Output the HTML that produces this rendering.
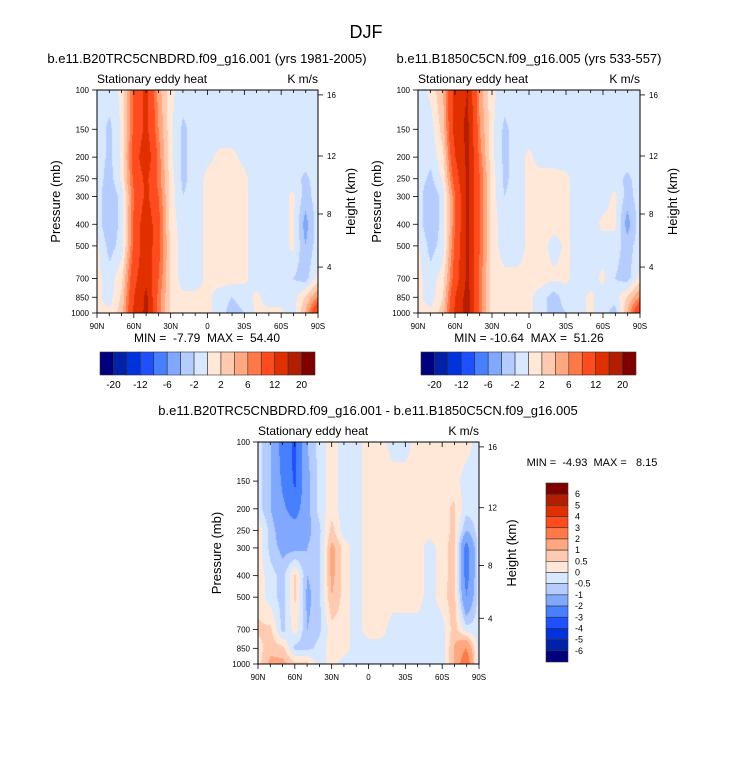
<!DOCTYPE html>
<html><head><meta charset="utf-8"><style>
body{margin:0;background:#fff;width:733px;height:758px;overflow:hidden;font-family:"Liberation Sans",sans-serif}
svg{position:absolute;left:0;top:0}
svg text{white-space:pre}
canvas{position:absolute}
</style></head><body>
<canvas id="c1" style="left:97px;top:90px" width="221" height="223"></canvas>
<canvas id="c2" style="left:418px;top:90px" width="222" height="223"></canvas>
<canvas id="c3" style="left:258px;top:442px" width="221" height="222"></canvas>
<svg id="s" width="733" height="758"></svg>
<script>
const lats=["90N","80N","70N","60N","50N","40N","30N","20N","10N","0","10S","20S","30S","40S","50S","60S","70S","80S","90S"];
const plevs=[100,150,200,250,300,400,500,700,850,1000];
const xTickLabels=["90N","60N","30N","0","30S","60S","90S"];
const pTickLabels=[100,150,200,250,300,400,500,700,850,1000];
const hTickLabels=[16,12,8,4];
const hTickFrac=[0.022,0.296,0.556,0.794];
const colors=["#00007f","#0022a8","#0033dd","#1e50ff","#4680ff","#80a8ff","#b4ccff","#d8e8ff","#ffe8d8","#ffcab0","#ffa880","#ff7848","#ff4c1e","#e03000","#b41e00","#800000"];
const levels1=[-20,-16,-12,-8,-6,-4,-2,0,2,4,6,8,12,16,20];
const levels3=[-6,-5,-4,-3,-2,-1,-0.5,0,0.5,1,2,3,4,5,6];
const cbLabels1=["-20","-12","-6","-2","2","6","12","20"];
const cbLabels3=["6","5","4","3","2","1","0.5","0","-0.5","-1","-2","-3","-4","-5","-6"];
const data1=[
[-1,-1,0.5,9,13,5,0.5,-1,-1,-1,-1,-1,-1,-1,-1,-1,-1,-1,-1],
[-1,-2.5,0.5,9,13,6,0.5,-2.5,-1,-1,-1,-1,-1,-1,-1,-1,-1,-1,-1],
[-1,-2.5,0.5,10,15,7,0.5,-2.5,-1,-0.5,0.5,0.5,-0.5,-1,-1,-1,-1,-1,-1],
[-1,-3,0.5,9,13,7,1,-2.5,-1,0.5,1,1,0.5,-1,-1,-1,-1,-2.5,-1],
[-1,-4,-1,8,13,8,1,-2,-1,0.5,1,1,0.5,-1,-1,-1,0.5,-3,-1],
[-1,-4,-1,9,15,9,1,-1,-1,0.5,1,1,0.5,-1,-1,-1,0.5,-5,-1],
[0.5,-3,-1,9,15,9,1.5,-1,-1,0.5,1,1,0.5,-1,-1,-1,0.5,-4,-1],
[0.5,-1,1.5,11,15,8,1.5,-1,-1,0.5,1,1,0.5,-1,-1,-1,-2,-3,0.5],
[0.5,-1,2.5,12,17,7,1.5,0.5,0.5,0.5,-1,-2,-1,0.5,-1,-1,-1,2,6],
[0.5,0.5,3,13,17,7,1.5,0.5,0.5,0.5,-1,-3,-2,0.5,0.5,0.5,-1,4,12]];
const data2=[
[-1,0.5,4,14,16,5,0.5,-1,-1,-1,-1,-1,-1,-1,-1,-1,-1,-1,-1],
[-1,-1,3,14,17,6,0.5,-2.5,-1,-1,-1,-1,-1,-1,-1,-1,-1,-1,-1],
[-1,-1.5,1.5,12,17,7,0.5,-2.5,-1,0.5,-1,-1,-1,-1,-1,-1,-1,-1,-1],
[-1,-2.5,0.5,10,17,8,1,-2.5,-1,0.5,1,1,0.5,-1,-1,-1,-1,-2.5,-1],
[-1,-4,-1,8,17,8,1,-2,-1,0.5,1,1,0.5,-1,-1,-1,0.5,-3,-1],
[-1,-4,-1,8,17,8,1,-1,-1,0.5,1,1,0.5,-1,-1,0.5,0.5,-5,-1],
[0.5,-3,-1,9,17,8,1,-1,-1,0.5,1,-1,0.5,-1,-1,-1,-1,-3,-1],
[0.5,-1,1,10,17,7,1,0.5,0.5,0.5,1,0.5,0.5,-1,-1,0.5,-2,-3,0.5],
[0.5,-1,2,12,18,7,1,0.5,0.5,0.5,-1,-3,-1,-1,0.5,-1,-1,2,6],
[0.5,0.5,3,13,18,7,1,0.5,0.5,0.5,-1,-3,-2,-1,0.5,-1,-3,4,12]];
const data3=[
[-0.3,-1,-2.5,-3.2,-1,-0.3,0.3,-0.3,-0.3,0.3,0.3,-0.3,-0.3,0.3,0.3,0.3,0.3,0.3,-0.3],
[-0.3,-1,-2.2,-3.2,-1.2,-0.3,0.3,-0.3,-0.3,0.3,0.3,0.3,0.3,0.3,0.3,0.3,0.3,-0.3,-0.3],
[-0.3,-1,-1.8,-2.5,-1.2,-0.3,0.3,-0.3,-0.3,0.3,0.3,0.3,0.3,0.3,0.3,0.3,0.6,-0.3,-0.3],
[0.3,-0.7,-1.5,-1.5,-1.2,-0.6,0.7,-0.3,-0.3,0.3,0.3,0.3,0.3,0.3,0.3,0.3,0.6,-1,-0.3],
[0.3,-0.7,-1.2,-1.2,-1,-0.6,1.2,0.3,-0.3,0.3,0.3,0.3,0.3,0.3,-0.3,0.3,0.7,-2.5,-0.3],
[0.3,-0.3,-0.7,0.6,-1,-0.6,1.2,0.3,-0.3,0.3,0.3,0.3,0.3,0.3,-0.3,0.3,0.7,-2.5,-0.3],
[0.3,-0.3,-0.7,0.6,-1.2,-0.6,1,0.3,-0.3,0.3,0.3,0.3,0.3,0.3,-0.3,0.3,0.8,-2,-0.3],
[0.6,0.6,-0.7,0.3,-1,-0.6,0.3,0.3,-0.3,0.3,0.3,-0.3,-0.3,-0.3,-0.3,-0.3,0.8,-0.3,-0.3],
[0.3,0.8,0.6,-0.7,-0.7,-0.3,0.3,0.3,-0.3,-0.3,-0.3,-0.3,-0.3,-0.3,-0.3,-0.3,1,2,-0.3],
[0.3,1.2,1.2,0.6,0.6,-0.3,0.3,-0.3,-0.3,-0.3,-0.3,-0.3,-0.3,-0.3,-0.3,-0.3,1,3,-0.3]];

const NS="http://www.w3.org/2000/svg";
const svg=document.getElementById('s');
function el(tag,attrs,text){const e=document.createElementNS(NS,tag);for(const k in attrs)e.setAttribute(k,attrs[k]);if(text!==undefined)e.textContent=text;svg.appendChild(e);return e;}
function pFrac(p){return (Math.log(p)-Math.log(100))/Math.log(10);}
function colorIdx(v,lv){let i=0;while(i<lv.length&&v>=lv[i])i++;return i;}
function hex(h){return [parseInt(h.substr(1,2),16),parseInt(h.substr(3,2),16),parseInt(h.substr(5,2),16)];}
const rgb=colors.map(hex);
function drawField(id,data,lv){
  const cv=document.getElementById(id),W=cv.width,H=cv.height,ctx=cv.getContext('2d');
  const img=ctx.createImageData(W,H);const pf=plevs.map(pFrac);
  for(let y=0;y<H;y++){const f=y/(H-1);let j=0;while(j<pf.length-2&&f>pf[j+1])j++;
    const ty=(f-pf[j])/(pf[j+1]-pf[j]);
    for(let x=0;x<W;x++){const gx=x/(W-1)*(lats.length-1);let i=Math.min(Math.floor(gx),lats.length-2);const tx=gx-i;
      const v=(data[j][i]*(1-tx)+data[j][i+1]*tx)*(1-ty)+(data[j+1][i]*(1-tx)+data[j+1][i+1]*tx)*ty;
      const c=rgb[colorIdx(v,lv)];const o=(y*W+x)*4;img.data[o]=c[0];img.data[o+1]=c[1];img.data[o+2]=c[2];img.data[o+3]=255;}}
  ctx.putImageData(img,0,0);
}
drawField('c1',data1,levels1);drawField('c2',data2,levels1);drawField('c3',data3,levels3);

function axes(x0,y0,w,h,name){
  el('rect',{x:x0,y:y0,width:w,height:h,fill:'none',stroke:'#000','stroke-width':1,});
  for(let k=0;k<=18;k++){const x=x0+w*k/18;const major=k%3==0;
    el('line',{x1:x,y1:y0+h,x2:x,y2:y0+h+(major?5:3),stroke:'#000','stroke-width':0.8});
    el('line',{x1:x,y1:y0,x2:x,y2:y0+(major?5:3),stroke:'#000','stroke-width':0.8});
    if(major){el('text',{x:x,y:y0+h+16,'font-size':8,'text-anchor':'middle',},xTickLabels[k/3]);}}
  pTickLabels.forEach(p=>{const y=y0+h*pFrac(p);el('line',{x1:x0-5,y1:y,x2:x0,y2:y,stroke:'#000','stroke-width':0.8});
    el('text',{x:x0-8,y:y+3,'font-size':8,'text-anchor':'end',},p);});
  hTickLabels.forEach((v,i)=>{const y=y0+h*hTickFrac[i];el('line',{x1:x0+w,y1:y,x2:x0+w+5,y2:y,stroke:'#000','stroke-width':0.8});
    el('text',{x:x0+w+9,y:y+3,'font-size':8,},v);});
  el('text',{x:x0,y:y0-7,'font-size':12,},'Stationary eddy heat');
  el('text',{x:x0+w,y:y0-7,'font-size':12,'text-anchor':'end',},'K m/s');
  const yc=y0+h/2;
  el('text',{x:x0-37,y:yc,'font-size':13,'text-anchor':'middle',transform:`rotate(-90 ${x0-37} ${yc})`,},'Pressure (mb)');
  el('text',{x:x0+w+37,y:yc,'font-size':13,'text-anchor':'middle',transform:`rotate(-90 ${x0+w+37} ${yc})`,},'Height (km)');
}
el('text',{x:366,y:38,'font-size':18,'text-anchor':'middle',},'DJF');
el('text',{x:207,y:63,'font-size':13,'text-anchor':'middle',},'b.e11.B20TRC5CNBDRD.f09_g16.001 (yrs 1981-2005)');
el('text',{x:529,y:63,'font-size':13,'text-anchor':'middle',},'b.e11.B1850C5CN.f09_g16.005 (yrs 533-557)');
el('text',{x:368,y:415,'font-size':13,'text-anchor':'middle',},'b.e11.B20TRC5CNBDRD.f09_g16.001 - b.e11.B1850C5CN.f09_g16.005');
axes(97,90,221,223,'plot1');axes(418,90,222,223,'plot2');axes(258,442,221,222,'plot3');
el('text',{x:207,y:342,'font-size':12,'text-anchor':'middle',},'MIN =  -7.79  MAX =  54.40');
el('text',{x:529,y:342,'font-size':12,'text-anchor':'middle',},'MIN = -10.64  MAX =  51.26');
el('text',{x:592,y:466,'font-size':11,'text-anchor':'middle',},'MIN =  -4.93  MAX =   8.15');
function hbar(x0,name){const w=215/16;
  colors.forEach((c,i)=>el('rect',{x:x0+i*w,y:352,width:w,height:23,fill:c,stroke:'#333','stroke-width':0.6,}));
  cbLabels1.forEach((t,k)=>el('text',{x:x0+(1+2*k)*w,y:388,'font-size':10,'text-anchor':'middle',},t));}
hbar(100,'colorbar1');hbar(421,'colorbar2');
(function(){const h=179/16;
  colors.slice().reverse().forEach((c,i)=>el('rect',{x:546,y:483+i*h,width:22,height:h,fill:c,stroke:'#333','stroke-width':0.6,}));
  cbLabels3.forEach((t,k)=>el('text',{x:575,y:483+(k+1)*h+3,'font-size':9,},t));})();
</script>
</body></html>
